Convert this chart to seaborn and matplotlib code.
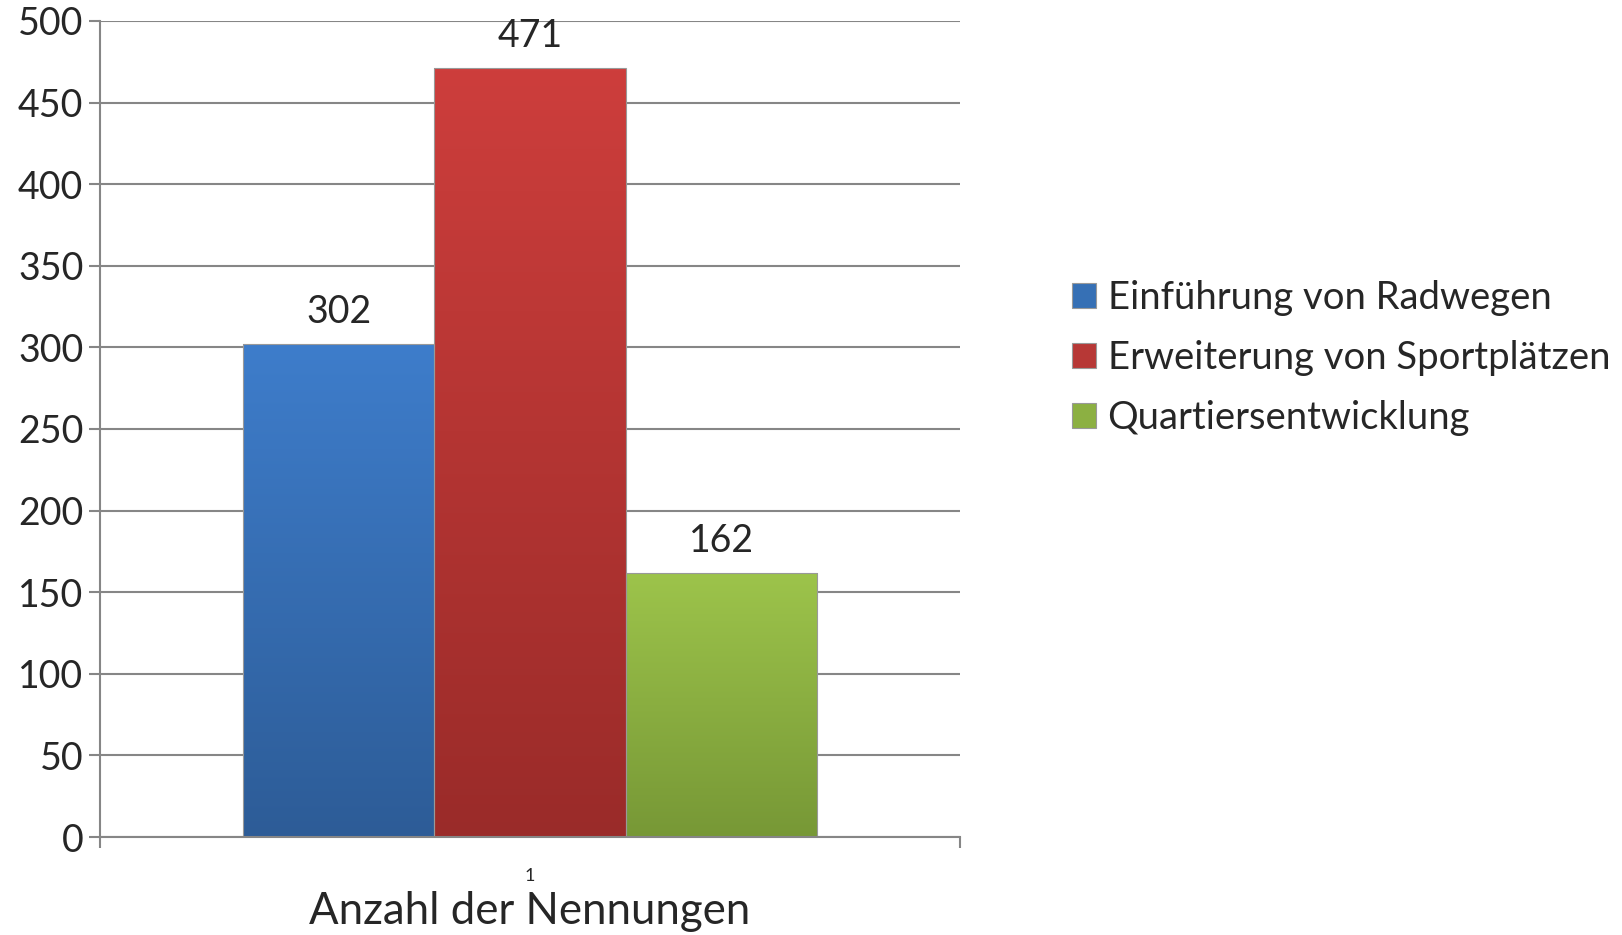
import matplotlib
matplotlib.use("Agg")
import matplotlib.pyplot as plt
import seaborn as sns
import pandas as pd
import numpy as np
from matplotlib.colors import LinearSegmentedColormap
from matplotlib.patches import Patch

categories = ["1"]
series = ["Einführung von Radwegen", "Erweiterung von Sportplätzen", "Quartiersentwicklung"]
values = [302, 471, 162]
y_ticks = [0, 50, 100, 150, 200, 250, 300, 350, 400, 450, 500]
x_label = "Anzahl der Nennungen"

top_colors = ["#3E7DCB", "#CD3E3C", "#9DC44B"]
bottom_colors = ["#2D5C97", "#9A2B29", "#779836"]
mid_colors = ["#3670B5", "#B73836", "#8CB042"]

sns.set_theme(style="white")
plt.rcParams["font.family"] = ["Lato", "DejaVu Sans"]

df = pd.DataFrame({"cat": categories * len(series), "series": series, "value": values})

fig = plt.figure(figsize=(16.22, 9.35), dpi=100)
ax = fig.add_axes([100 / 1622, 98 / 935, 860 / 1622, 816 / 935])

sns.barplot(data=df, x="cat", y="value", hue="series", hue_order=series,
            palette=mid_colors, width=0.667, ax=ax, edgecolor="#999999",
            linewidth=0.8, legend=False)

ax.set_xlim(-0.5, 0.5)
ax.set_ylim(0, 500)
ax.set_yticks(y_ticks)
ax.set_yticklabels([str(t) for t in y_ticks], fontsize=27)
ax.yaxis.grid(True, color="#868686", linewidth=1.5)
ax.set_axisbelow(True)
for s in ["top", "right"]:
    ax.spines[s].set_visible(False)
for s in ["left", "bottom"]:
    ax.spines[s].set_color("#868686")
    ax.spines[s].set_linewidth(1.5)
ax.tick_params(axis="y", which="major", direction="out", length=8, width=1.5,
               color="#868686", left=True, pad=4)
ax.set_xticks([0])
ax.set_xticklabels(categories, fontsize=13)
ax.set_xticks([-0.5, 0.5], minor=True)
ax.tick_params(axis="x", which="major", length=0, pad=22)
ax.tick_params(axis="x", which="minor", direction="out", length=8, width=1.5,
               color="#868686", bottom=True)
ax.set_xlabel(x_label, fontsize=31.5, labelpad=5)
ax.set_ylabel("")

# vertical gradients inside each bar
for i, p in enumerate(list(ax.patches)):
    cmap = LinearSegmentedColormap.from_list("g", [bottom_colors[i], top_colors[i]])
    x0 = p.get_x()
    w, h = p.get_width(), p.get_height()
    grad = np.linspace(0, 1, 256).reshape(-1, 1)
    im = ax.imshow(grad, cmap=cmap, aspect="auto", origin="lower",
                   extent=[x0, x0 + w, 0, h], zorder=p.get_zorder())
    im.set_clip_path(p)
    p.set_facecolor("none")
    p.set_zorder(p.get_zorder() + 0.1)

ax.set_xlim(-0.5, 0.5)
ax.set_ylim(0, 500)

for c in ax.containers:
    ax.bar_label(c, labels=[f"{int(v)}" for v in c.datavalues], fontsize=27, padding=10)

handles = [Patch(facecolor=mid_colors[i], edgecolor="#999999", linewidth=0.8) for i in range(3)]
fig.legend(handles, series, loc="center left", bbox_to_anchor=(1072 / 1622, 1 - 358 / 935),
           frameon=False, fontsize=27.5, handlelength=0.63, handleheight=0.63,
           handletextpad=0.3, labelspacing=0.62, borderaxespad=0, borderpad=0)

fig.savefig("out.png", dpi=100)
